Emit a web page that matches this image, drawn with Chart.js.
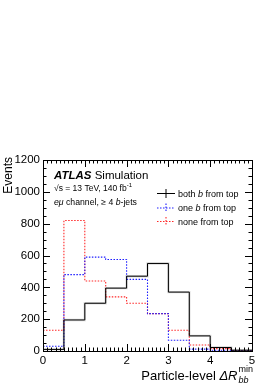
<!DOCTYPE html>
<html>
<head>
<meta charset="utf-8">
<script src="https://cdn.jsdelivr.net/npm/chart.js@4"></script>
<style>
  html, body { margin: 0; padding: 0; background: #fff; }
  canvas { display: block; }
</style>
</head>
<body>
<canvas id="myChart" width="274" height="388"></canvas>
<script>
// bin edges of dR_bb^min and event counts per bin
const binEdges = [0, 0.5, 1, 1.5, 2, 2.5, 3, 3.5, 4, 4.5, 5];
const bothFromTop = [10, 195, 300, 395, 470, 550, 370, 95, 22, 5];
const oneFromTop = [30, 480, 590, 575, 450, 235, 68, 12, 5, 1];
const noneFromTop = [130, 820, 440, 340, 300, 235, 130, 38, 15, 3];
const seriesLabels = ['both b from top', 'one b from top', 'none from top'];
const xTicks = [0, 1, 2, 3, 4, 5];
const yTicks = [0, 200, 400, 600, 800, 1000, 1200];

const FONT = '"Liberation Sans", Arial, Helvetica, sans-serif';

// histogram as step line: one point per left edge, plus the last right edge
function toSteps(values) {
    const pts = values.map((v, i) => ({ x: binEdges[i], y: v }));
    pts.push({ x: binEdges[binEdges.length - 1], y: values[values.length - 1] });
    return pts;
}

// draw text made of several pieces with different fonts
function drawParts(ctx, parts, x, y) {
    let cx = x;
    parts.forEach(p => {
        ctx.font = p.font;
        ctx.fillText(p.t, cx, y + (p.dy || 0));
        cx += ctx.measureText(p.t).width;
    });
}

const atlasStyle = {
    id: 'atlasStyle',
    afterDraw(chart) {
        const ctx = chart.ctx;
        const area = chart.chartArea;
        const xs = chart.scales.x;
        const ys = chart.scales.y;
        ctx.save();
        ctx.strokeStyle = '#000';
        ctx.lineWidth = 1;

        // frame
        ctx.strokeRect(Math.round(area.left) + 0.5, Math.round(area.top) + 0.5,
            Math.round(area.right - area.left), Math.round(area.bottom - area.top));

        // inner ticks on all four sides
        ctx.beginPath();
        for (let i = 0; i <= 50; i++) {
            const v = i / 10;
            const px = Math.round(xs.getPixelForValue(v)) + 0.5;
            const len = (i % 10 === 0) ? 7 : 3.5;
            ctx.moveTo(px, area.bottom); ctx.lineTo(px, area.bottom - len);
            ctx.moveTo(px, area.top); ctx.lineTo(px, area.top + len);
        }
        for (let v = 0; v <= 1200; v += 50) {
            const py = Math.round(ys.getPixelForValue(v)) + 0.5;
            const len = (v % 200 === 0) ? 7 : 3.5;
            ctx.moveTo(area.left, py); ctx.lineTo(area.left + len, py);
            ctx.moveTo(area.right, py); ctx.lineTo(area.right - len, py);
        }
        ctx.stroke();

        ctx.fillStyle = '#000';
        ctx.textBaseline = 'alphabetic';
        ctx.textAlign = 'left';

        // ATLAS label
        drawParts(ctx, [
            { t: 'ATLAS', font: 'italic bold 11.5px ' + FONT },
            { t: ' Simulation', font: '11.5px ' + FONT }
        ], 54, 179);
        drawParts(ctx, [
            { t: '\u221As = 13 TeV, 140 fb', font: '8.5px ' + FONT },
            { t: '-1', font: '6px ' + FONT, dy: -4 }
        ], 54, 191);
        drawParts(ctx, [
            { t: 'e\u03BC', font: 'italic 8.7px ' + FONT },
            { t: ' channel, \u2265 4 ', font: '8.7px ' + FONT },
            { t: 'b', font: 'italic 8.7px ' + FONT },
            { t: '-jets', font: '8.7px ' + FONT }
        ], 54, 205);

        // legend
        const legendParts = [
            [{ t: 'both ', font: '9px ' + FONT }, { t: 'b', font: 'italic 9px ' + FONT }, { t: ' from top', font: '9px ' + FONT }],
            [{ t: 'one ', font: '9px ' + FONT }, { t: 'b', font: 'italic 9px ' + FONT }, { t: ' from top', font: '9px ' + FONT }],
            [{ t: seriesLabels[2], font: '9px ' + FONT }]
        ];
        const rows = [193.5, 208, 221.5];
        chart.data.datasets.slice(0, 3).forEach((ds, i) => {
            const yy = rows[i];
            ctx.strokeStyle = ds.borderColor;
            ctx.lineWidth = ds.borderWidth;
            ctx.setLineDash(ds.borderDash || []);
            ctx.beginPath();
            ctx.moveTo(157, yy); ctx.lineTo(175, yy);
            ctx.moveTo(166, yy - 4.5); ctx.lineTo(166, yy + 4.5);
            ctx.stroke();
            ctx.setLineDash([]);
            ctx.fillStyle = '#000';
            drawParts(ctx, legendParts[i], 178, yy + 3.2);
        });

        // y title
        ctx.save();
        ctx.translate(12, area.top - 3);
        ctx.rotate(-Math.PI / 2);
        ctx.textAlign = 'right';
        ctx.font = '12px ' + FONT;
        ctx.fillText('Events', 0, 0);
        ctx.restore();

        // x title, right aligned to the axis end
        const xParts = [
            { t: 'Particle-level ', font: '13px ' + FONT },
            { t: '\u0394R', font: 'italic 13px ' + FONT }
        ];
        let w = 0;
        xParts.forEach(p => { ctx.font = p.font; w += ctx.measureText(p.t).width; });
        ctx.font = 'italic 9px ' + FONT;
        const subW = ctx.measureText('bb').width;
        ctx.font = '9px ' + FONT;
        const supW = ctx.measureText('min').width;
        const extra = Math.max(subW, supW) + 1;
        const x0 = area.right + 1 - w - extra;
        const base = 380;
        drawParts(ctx, xParts, x0, base);
        ctx.font = 'italic 9px ' + FONT;
        ctx.fillText('bb', x0 + w + 1, base + 3);
        ctx.font = '9px ' + FONT;
        ctx.fillText('min', x0 + w + 1, base - 8);

        ctx.restore();
    }
};

const ctx = document.getElementById('myChart').getContext('2d');
window.myChart = new Chart(ctx, {
    type: 'line',
    data: {
        datasets: [
            {
                label: seriesLabels[0],
                data: toSteps(bothFromTop),
                borderColor: '#000',
                borderWidth: 1,
                stepped: 'before',
                pointRadius: 0,
                fill: false,
                order: 1
            },
            {
                label: seriesLabels[1],
                data: toSteps(oneFromTop),
                borderColor: 'rgb(30,30,255)',
                borderWidth: 1.1,
                borderDash: [1.5, 1.5],
                stepped: 'before',
                pointRadius: 0,
                fill: false,
                order: 2
            },
            {
                label: seriesLabels[2],
                data: toSteps(noneFromTop),
                borderColor: 'rgb(255,40,40)',
                borderWidth: 1.1,
                borderDash: [1.5, 1.5],
                stepped: 'before',
                pointRadius: 0,
                fill: false,
                order: 3
            },
            {
                // grey uncertainty shading under the black histogram
                label: 'band',
                data: toSteps(bothFromTop),
                borderColor: 'rgba(140,140,140,0.3)',
                borderWidth: 2.4,
                stepped: 'before',
                pointRadius: 0,
                fill: false,
                order: 4
            }
        ]
    },
    options: {
        responsive: false,
        animation: false,
        devicePixelRatio: 1,
        layout: { padding: { top: 160, right: 22, left: 0, bottom: 0 } },
        plugins: {
            legend: { display: false },
            tooltip: { enabled: false }
        },
        scales: {
            x: {
                type: 'linear',
                min: 0,
                max: 5,
                afterBuildTicks: s => { s.ticks = xTicks.map(v => ({ value: v })); },
                afterFit: s => { s.height = 37; },
                grid: { display: false, drawTicks: false },
                border: { display: false },
                ticks: { color: '#000', padding: 3, font: { family: FONT, size: 11.5 }, maxRotation: 0, callback: v => String(v) }
            },
            y: {
                type: 'linear',
                min: 0,
                max: 1200,
                afterBuildTicks: s => { s.ticks = yTicks.map(v => ({ value: v })); },
                afterFit: s => { s.width = 43; },
                grid: { display: false, drawTicks: false },
                border: { display: false },
                ticks: { color: '#000', padding: 3, font: { family: FONT, size: 11.5 }, callback: v => String(v) }
            }
        }
    },
    plugins: [atlasStyle]
});
</script>
</body>
</html>
